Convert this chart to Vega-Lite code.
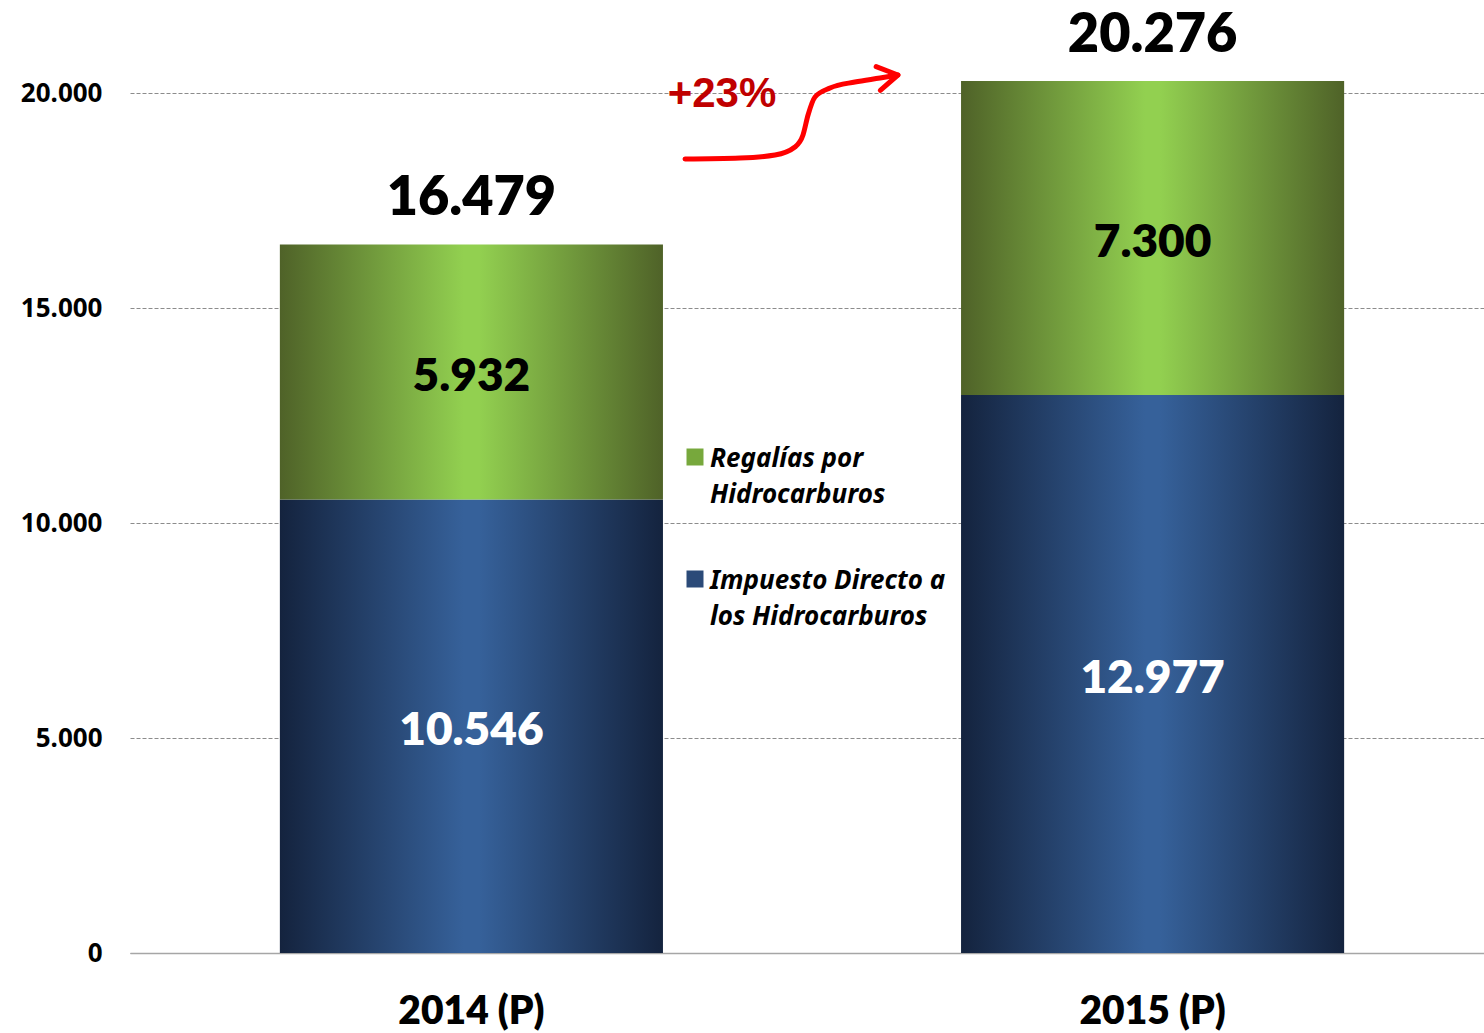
{
  "$schema": "https://vega.github.io/schema/vega-lite/v6.json",
  "width": 1364,
  "height": 953,
  "autosize": {"type": "none"},
  "padding": {"left": 130, "top": 0, "right": 0, "bottom": 80},
  "background": "white",
  "config": {
    "view": {"stroke": null},
    "locale": {"number": {"decimal": ",", "thousands": ".", "grouping": [3], "currency": ["", ""]}},
    "style": {"guide-label": {"lineHeight": 36, "dy": -11}}
  },
  "datasets": {
    "bars": [
      {"anio": "2014 (P)", "concepto": "Impuesto Directo a los Hidrocarburos", "orden": 1, "monto": 10546},
      {"anio": "2014 (P)", "concepto": "Regalías por Hidrocarburos", "orden": 2, "monto": 5932},
      {"anio": "2015 (P)", "concepto": "Impuesto Directo a los Hidrocarburos", "orden": 1, "monto": 12977},
      {"anio": "2015 (P)", "concepto": "Regalías por Hidrocarburos", "orden": 2, "monto": 7300}
    ],
    "totales": [
      {"anio": "2014 (P)", "total": 16479},
      {"anio": "2015 (P)", "total": 20276}
    ],
    "flecha": [
      {"fx": 0.4069, "fy": 18465},
      {"fx": 0.4472, "fy": 18489},
      {"fx": 0.4729, "fy": 18558},
      {"fx": 0.4875, "fy": 18744},
      {"fx": 0.4934, "fy": 19023},
      {"fx": 0.4971, "fy": 19489},
      {"fx": 0.5022, "fy": 19907},
      {"fx": 0.5132, "fy": 20116},
      {"fx": 0.5315, "fy": 20256},
      {"fx": 0.5499, "fy": 20349},
      {"fx": 0.5630, "fy": 20419}
    ],
    "punta": [{"fx": 0.5630, "fy": 20419}],
    "cambio": [{"label": "+23%", "fx": 0.434, "fy": 19977}]
  },
  "layer": [
    {
      "layer": [
        {
          "data": {"name": "bars"},
          "mark": {"type": "bar", "strokeWidth": 0},
          "encoding": {
            "x": {
              "field": "anio", "type": "nominal",
              "scale": {"paddingInner": 0.4376, "paddingOuter": 0.22},
              "axis": {
                "title": null, "labelAngle": 0, "ticks": false,
                "labelFont": "Lato", "labelFontWeight": 800, "labelFontSize": 39, "labelColor": "#000000",
                "labelPadding": 50, "domainColor": "#a6a6a6", "domainWidth": 1.5, "grid": false
              }
            },
            "y": {
              "field": "monto", "type": "quantitative", "stack": "zero",
              "scale": {"domain": [0, 22163], "nice": false},
              "axis": {
                "title": null, "values": [0, 5000, 10000, 15000, 20000], "format": ",d",
                "ticks": false, "domain": false, "grid": true,
                "gridDash": [4, 2], "gridColor": "#8c8c8c", "gridWidth": 1.2,
                "labelFont": "Noto Sans", "labelFontWeight": "bold", "labelFontSize": 26,
                "labelColor": "#000000", "labelPadding": 28, "labelOffset": 11
              }
            },
            "fill": {
              "condition": {
                "test": "datum.orden == 1",
                "value": {"gradient": "linear", "x1": 0, "y1": 0, "x2": 1, "y2": 0,
                  "stops": [{"offset": 0, "color": "#14233e"}, {"offset": 0.48, "color": "#36619a"}, {"offset": 0.52, "color": "#36619a"}, {"offset": 1, "color": "#14233e"}]}
              },
              "value": {"gradient": "linear", "x1": 0, "y1": 0, "x2": 1, "y2": 0,
                "stops": [{"offset": 0, "color": "#4f6228"}, {"offset": 0.48, "color": "#92d050"}, {"offset": 0.52, "color": "#92d050"}, {"offset": 1, "color": "#4f6228"}]}
            },
            "order": {"field": "orden", "type": "quantitative"}
          }
        },
        {
          "data": {"name": "bars"},
          "mark": {"type": "square", "opacity": 0},
          "encoding": {
            "x": {"field": "anio", "type": "nominal"},
            "y": {"datum": 0, "type": "quantitative"},
            "color": {
              "field": "concepto", "type": "nominal",
              "scale": {
                "domain": ["Regalías por Hidrocarburos", "Impuesto Directo a los Hidrocarburos"],
                "range": ["#77a83c", "#2b4a78"]
              },
              "legend": {
                "orient": "none", "legendX": 552, "legendY": 444, "title": null,
                "symbolType": "square", "symbolSize": 289, "symbolStrokeWidth": 0, "symbolOpacity": 1,
                "labelFont": "Noto Sans", "labelFontStyle": "italic", "labelFontWeight": "bold",
                "labelFontSize": 26, "labelColor": "#000000", "labelLimit": 500, "labelOffset": 2,
                "labelBaseline": "top", "rowPadding": 58,
                "labelExpr": "datum.label == 'Regalías por Hidrocarburos' ? ['Regalías por', 'Hidrocarburos'] : ['Impuesto Directo a', 'los Hidrocarburos']"
              }
            }
          }
        },
        {
          "data": {"name": "totales"},
          "mark": {"type": "text", "font": "Lato", "fontWeight": 800, "fontSize": 54, "color": "#000000", "baseline": "middle", "dy": -45},
          "encoding": {
            "x": {"field": "anio", "type": "nominal"},
            "y": {"field": "total", "type": "quantitative"},
            "text": {"field": "total", "type": "quantitative", "format": ",d"}
          }
        },
        {
          "data": {"name": "bars"},
          "transform": [
            {"stack": "monto", "groupby": ["anio"], "sort": [{"field": "orden", "order": "ascending"}], "as": ["y0", "y1"]},
            {"calculate": "(datum.y0 + datum.y1) / 2", "as": "ymid"}
          ],
          "mark": {"type": "text", "font": "Lato", "fontWeight": 800, "fontSize": 46, "baseline": "middle", "dy": 5},
          "encoding": {
            "x": {"field": "anio", "type": "nominal"},
            "y": {"field": "ymid", "type": "quantitative"},
            "text": {"field": "monto", "type": "quantitative", "format": ",d"},
            "color": {"condition": {"test": "datum.orden == 1", "value": "#ffffff"}, "value": "#000000"}
          }
        }
      ]
    },
    {
      "layer": [
        {
          "data": {"name": "flecha"},
          "mark": {"type": "line", "interpolate": "monotone", "color": "#ff0000", "strokeWidth": 5, "strokeCap": "round"},
          "encoding": {
            "x": {"field": "fx", "type": "quantitative", "scale": {"domain": [0, 1], "nice": false}, "axis": null},
            "y": {"field": "fy", "type": "quantitative"}
          }
        },
        {
          "data": {"name": "punta"},
          "mark": {"type": "point", "shape": "M -1 -0.6 L 0 0 L -1 0.6", "filled": false, "stroke": "#ff0000", "strokeWidth": 5, "strokeCap": "round", "strokeJoin": "round", "size": 1600, "angle": 350, "opacity": 1},
          "encoding": {
            "x": {"field": "fx", "type": "quantitative"},
            "y": {"field": "fy", "type": "quantitative"}
          }
        },
        {
          "data": {"name": "cambio"},
          "mark": {"type": "text", "font": "Liberation Sans", "fontWeight": "bold", "fontSize": 42, "color": "#c00000", "baseline": "middle", "align": "center"},
          "encoding": {
            "x": {"field": "fx", "type": "quantitative"},
            "y": {"field": "fy", "type": "quantitative"},
            "text": {"field": "label"}
          }
        }
      ]
    }
  ],
  "resolve": {"scale": {"x": "independent"}}
}
